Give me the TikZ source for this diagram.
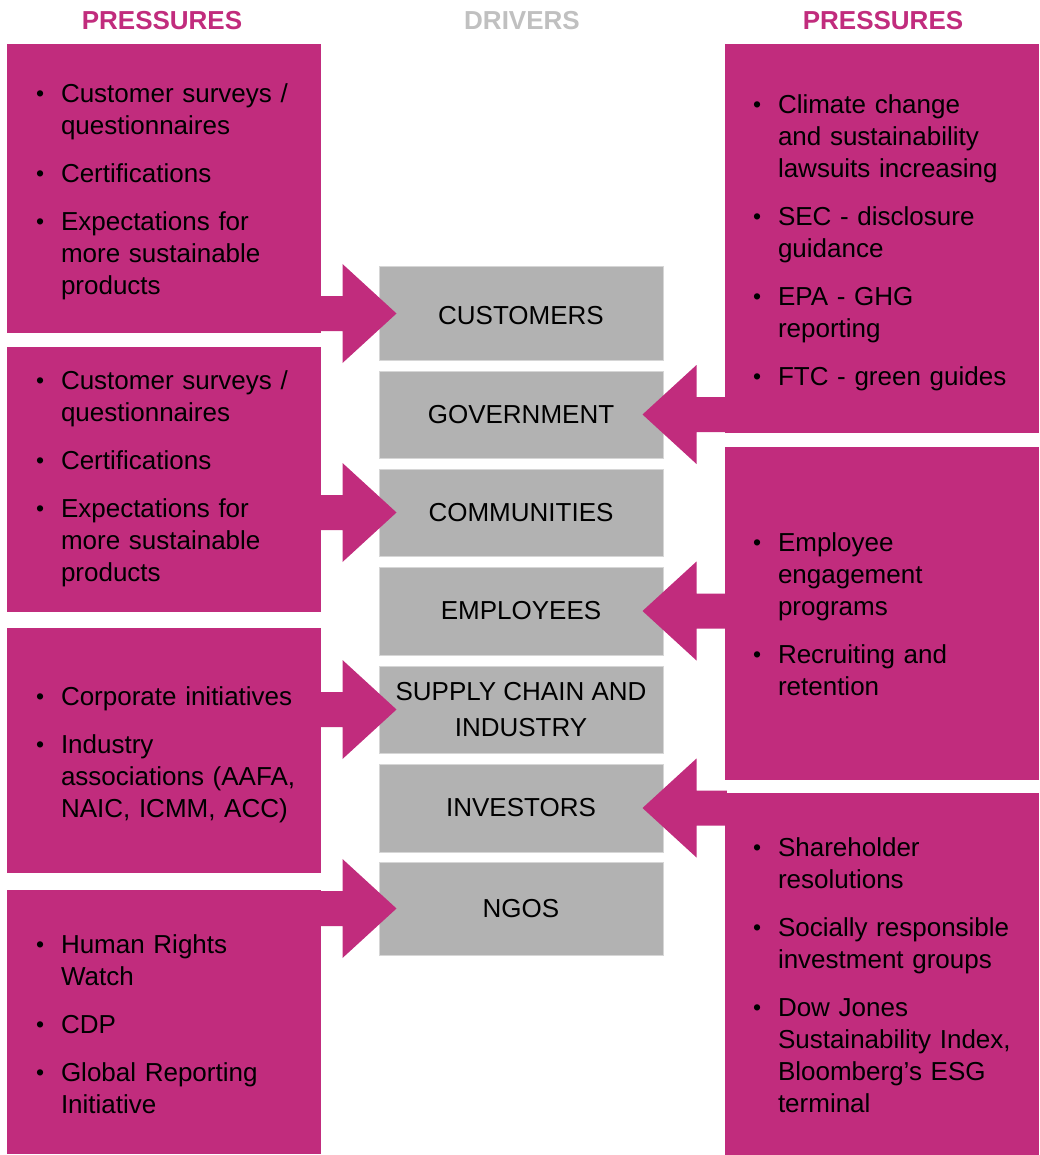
\documentclass[tikz,border=0pt]{standalone}
\usepackage{fontspec}
\setmainfont{Liberation Sans}
\usetikzlibrary{calc}
\definecolor{mag}{HTML}{C12C7D}
\definecolor{drvgray}{HTML}{B2B2B2}
\definecolor{drvline}{HTML}{D6D6D6}
\definecolor{hdrgray}{HTML}{C0C0C0}
\newcommand\bit[1]{\par\hangindent=25pt\hangafter=1\noindent\makebox[25pt][l]{\raisebox{1pt}{\fontsize{23}{23}\selectfont\textbullet}}#1\par}
\newcommand\gap{\vspace{16pt}}
\newcommand\larrow[2]{%
  \coordinate (T) at ($(#2.west)+(18,0)$);
  \fill[mag] (T) -- ++(-54,-49.5) -- ++(0,32) -- ($(#1.east|-T)+(-2,-17.5)$) -- ++(0,35) -- ($(T)+(-54,17.5)$) -- ++(0,32) -- cycle;}
\newcommand\rarrow[2]{%
  \coordinate (T) at ($(#2.east)+(-21,0)$);
  \fill[mag] (T) -- ++(54,-49.5) -- ++(0,32) -- ($(#1.west|-T)+(2,-17.5)$) -- ++(0,35) -- ($(T)+(54,17.5)$) -- ++(0,32) -- cycle;}
\begin{document}
\begin{tikzpicture}[x=1pt,y=-1pt,
  pbox/.style={fill=mag, draw=none, minimum width=314pt, inner sep=0pt},
  ptext/.style={anchor=west, text width=285pt, align=left, inner sep=0pt, text=black,
    font=\fontsize{26}{32}\selectfont},
  drv/.style={fill=drvgray, draw=drvline, line width=1pt, minimum width=284pt, inner sep=0pt,
    align=center, text=black, font=\fontsize{26}{36}\selectfont},
  hdr/.style={inner sep=0pt, font=\fontsize{26}{30}\selectfont\bfseries}]
\useasboundingbox[fill=white] (0,0) rectangle (1040,1155);
% headers
\node[hdr, text=mag] (h1) at (162,21) {PRESSURES};
\node[hdr, text=hdrgray] (h2) at (522,21) {DRIVERS};
\node[hdr, text=mag] (h3) at (883,21) {PRESSURES};
% left pressure boxes
\node[pbox, minimum height=289pt] (L1) at (164,188.5) {};
\node[ptext] (L1t) at ($(L1.west)+(29,-3)$) {\bit{Customer surveys /\newline questionnaires}\gap\bit{Certifications}\gap\bit{Expectations for\newline more sustainable\newline products}};
\node[pbox, minimum height=265pt] (L2) at (164,479.5) {};
\node[ptext] (L2t) at ($(L2.west)+(29,-7)$) {\bit{Customer surveys /\newline questionnaires}\gap\bit{Certifications}\gap\bit{Expectations for\newline more sustainable\newline products}};
\node[pbox, minimum height=245pt] (L3) at (164,750.5) {};
\node[ptext] (L3t) at ($(L3.west)+(29,-2)$) {\bit{Corporate initiatives}\gap\bit{Industry\newline associations (AAFA,\newline NAIC, ICMM, ACC)}};
\node[pbox, minimum height=264pt] (L4) at (164,1022) {};
\node[ptext] (L4t) at ($(L4.west)+(29,-4)$) {\bit{Human Rights\newline Watch}\gap\bit{CDP}\gap\bit{Global Reporting\newline Initiative}};
% right pressure boxes
\node[pbox, minimum height=388pt] (R1) at (882,238.5) {};
\node[ptext] (R1t) at ($(R1.west)+(28,-2)$) {\bit{Climate change\newline and sustainability\newline lawsuits increasing}\gap\bit{SEC - disclosure\newline guidance}\gap\bit{EPA - GHG\newline reporting}\gap\bit{FTC - green guides}};
\node[pbox, minimum height=333pt] (R2) at (882,613.5) {};
\node[ptext] (R2t) at ($(R2.west)+(28,-6)$) {\bit{Employee\newline engagement\newline programs}\gap\bit{Recruiting and\newline retention}};
\node[pbox, minimum height=362pt] (R3) at (882,973.5) {};
\node[ptext] (R3t) at ($(R3.west)+(28,-5)$) {\bit{Shareholder\newline resolutions}\gap\bit{Socially responsible\newline investment groups}\gap\bit{Dow Jones\newline Sustainability Index,\newline Bloomberg’s ESG\newline terminal}};
% drivers
\node[drv, minimum height=93pt] (cust) at (521,313.5) {};
\node[drv, fill=none, draw=none] (custt) at (521,316) {CUSTOMERS};
\node[drv, minimum height=87pt] (gov) at (521,414.5) {GOVERNMENT};
\node[drv, minimum height=87pt] (comm) at (521,512.5) {COMMUNITIES};
\node[drv, minimum height=88pt] (emp) at (521,611) {EMPLOYEES};
\node[drv, minimum height=87pt] (sup) at (521,709.5) {SUPPLY CHAIN AND\\INDUSTRY};
\node[drv, minimum height=88pt] (inv) at (521,808) {INVESTORS};
\node[drv, minimum height=93pt] (ngo) at (521,908.5) {NGOS};
% arrows
\larrow{L1}{cust}
\larrow{L2}{comm}
\larrow{L3}{sup}
\larrow{L4}{ngo}
\rarrow{R1}{gov}
\rarrow{R2}{emp}
\rarrow{R3}{inv}
\end{tikzpicture}
\end{document}
